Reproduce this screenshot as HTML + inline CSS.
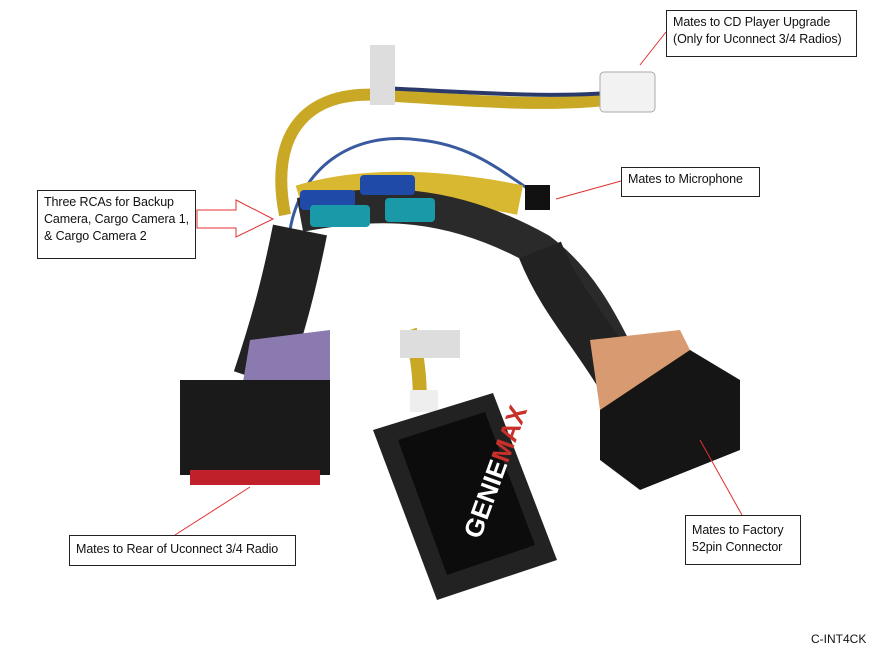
<!DOCTYPE html>
<html><head><meta charset="utf-8"><style>
body{margin:0;background:#fff;}
.wrap{position:relative;width:869px;height:647px;overflow:hidden;font-family:"Liberation Sans",sans-serif;}
.lb{position:absolute;border:1.5px solid #222;background:#fff;font-size:12.5px;line-height:17px;color:#111;padding:3px 6px;box-sizing:border-box;white-space:nowrap;letter-spacing:-0.1px;}
</style></head><body><div class="wrap">
<svg width="869" height="647" style="position:absolute;left:0;top:0">
<path d="M640 95 C560 110 470 100 380 95 C300 90 270 140 285 215" stroke="#c9a825" stroke-width="12" fill="none"/>
<path d="M640 90 C560 100 470 92 380 88" stroke="#2a3a6a" stroke-width="4" fill="none"/>
<path d="M290 230 C300 170 350 130 420 140 C470 145 500 170 530 190" stroke="#3a5aa0" stroke-width="3" fill="none"/>
<rect x="600" y="72" width="55" height="40" rx="4" fill="#f2f2f2" stroke="#aaa"/>
<rect x="370" y="45" width="25" height="60" fill="#ddd"/>
<path d="M300 200 C350 185 420 180 520 200" stroke="#d8b830" stroke-width="30" fill="none"/>
<path d="M300 215 C380 200 450 200 540 250 C580 280 600 320 620 360" stroke="#2a2a2a" stroke-width="34" fill="none"/>
<rect x="360" y="175" width="55" height="20" rx="4" fill="#1f4aa8"/>
<rect x="300" y="190" width="55" height="20" rx="4" fill="#1f4aa8"/>
<rect x="310" y="205" width="60" height="22" rx="4" fill="#1a9aa8"/>
<rect x="385" y="198" width="50" height="24" rx="4" fill="#1a9aa8"/>
<rect x="525" y="185" width="25" height="25" fill="#111"/>
<path d="M300 230 C290 280 280 320 260 380" stroke="#222" stroke-width="55" fill="none"/>
<path d="M250 340 L330 330 L330 400 L240 400Z" fill="#8a7ab0"/>
<rect x="180" y="380" width="150" height="95" fill="#1a1a1a"/>
<rect x="190" y="470" width="130" height="15" fill="#c0202a"/>
<path d="M540 250 C560 300 590 330 620 380" stroke="#222" stroke-width="45" fill="none"/>
<path d="M590 340 L680 330 L700 370 L600 410Z" fill="#d89a70"/>
<path d="M600 410 L690 350 L740 380 L740 450 L640 490 L600 460Z" fill="#151515"/>
<path d="M410 330 C420 360 420 390 420 410" stroke="#c9a825" stroke-width="14" fill="none"/>
<rect x="400" y="330" width="60" height="28" fill="#ddd"/>
<rect x="410" y="390" width="28" height="22" fill="#eee"/>
<polygon points="373,430 493,393 557,560 437,600" fill="#222"/>
<polygon points="398,440 485,412 535,545 447,575" fill="#0c0c0c"/>
<text x="0" y="0" transform="translate(480,540) rotate(-70)" font-size="26" font-weight="bold" fill="#fff" font-family="Liberation Sans">GENIE<tspan fill="#c8302a">MAX</tspan></text>
<path d="M666 32 L640 65" stroke="#e03030" stroke-width="1"/>
<path d="M621 181 L556 199" stroke="#e03030" stroke-width="1"/>
<path d="M175 535 L250 487" stroke="#e03030" stroke-width="1"/>
<path d="M742 515 L700 440" stroke="#e03030" stroke-width="1"/>
<polygon points="197,210 236,210 236,200 273,219 236,237 236,228 197,228" fill="#fff" stroke="#e03030" stroke-width="1"/>
</svg>
<div class="lb" style="left:666px;top:10px;width:191px;height:47px;">Mates to CD Player Upgrade<br>(Only for Uconnect 3/4 Radios)</div>
<div class="lb" style="left:621px;top:167px;width:139px;height:30px;">Mates to Microphone</div>
<div class="lb" style="left:37px;top:190px;width:159px;height:69px;">Three RCAs for Backup<br>Camera, Cargo Camera 1,<br>&amp; Cargo Camera 2</div>
<div class="lb" style="left:69px;top:535px;width:227px;height:31px;padding-top:5px;">Mates to Rear of Uconnect 3/4 Radio</div>
<div class="lb" style="left:685px;top:515px;width:116px;height:50px;padding-top:6px;">Mates to Factory<br>52pin Connector</div>
<div style="position:absolute;left:811px;top:632px;font-size:12px;color:#111;">C-INT4CK</div>
</div></body></html>
